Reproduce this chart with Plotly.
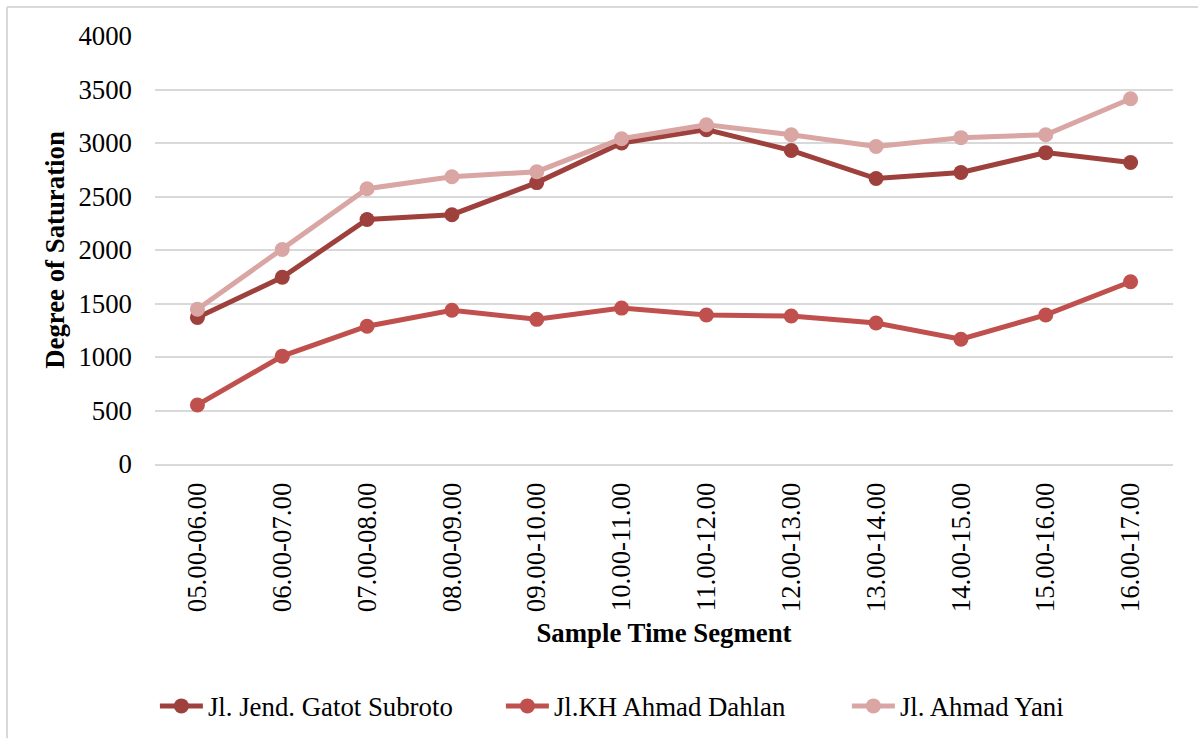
import plotly.graph_objects as go

categories = ["05.00-06.00", "06.00-07.00", "07.00-08.00", "08.00-09.00", "09.00-10.00",
              "10.00-11.00", "11.00-12.00", "12.00-13.00", "13.00-14.00", "14.00-15.00",
              "15.00-16.00", "16.00-17.00"]
gatot_subroto = [1370, 1745, 2285, 2330, 2630, 3000, 3125, 2930, 2668, 2725, 2910, 2818]
ahmad_dahlan = [552, 1008, 1288, 1437, 1352, 1457, 1392, 1383, 1318, 1166, 1393, 1703]
ahmad_yani = [1447, 2005, 2573, 2685, 2732, 3040, 3170, 3077, 2967, 3050, 3077, 3413]
y_ticks = [0, 500, 1000, 1500, 2000, 2500, 3000, 3500, 4000]

series = [
    ("Jl. Jend. Gatot Subroto", gatot_subroto, "#9E413D"),
    ("Jl.KH Ahmad Dahlan", ahmad_dahlan, "#C0504D"),
    ("Jl. Ahmad Yani", ahmad_yani, "#D9A6A4"),
]

font_family = "Liberation Serif, Times New Roman, serif"
FS = 26.8

fig = go.Figure()
for name, vals, color in series:
    fig.add_trace(go.Scatter(
        x=categories, y=vals, name=name, mode="lines+markers",
        line=dict(color=color, width=5),
        marker=dict(color=color, size=15),
    ))

W, H = 1198, 740
L, R, T, B = 155, 25, 36, 275
pw, ph = W - L - R, H - T - B

fig.update_layout(
    width=W, height=H,
    margin=dict(l=L, r=R, t=T, b=B),
    paper_bgcolor="white", plot_bgcolor="white",
    font=dict(family=font_family, size=FS, color="black"),
    showlegend=True,
    legend=dict(orientation="h", x=-0.0001, xanchor="left", y=(465 - 706) / ph, yanchor="middle",
                font=dict(size=FS), itemwidth=43, entrywidth=288, entrywidthmode="pixels",
                traceorder="normal"),
    xaxis=dict(
        type="category", tickangle=-90, showgrid=False, showline=True,
        linecolor="#D9D9D9", linewidth=2, ticks="", tickfont=dict(size=FS),
        ticklabelstandoff=6,
        title=dict(text="<b>Sample Time Segment</b>", font=dict(size=FS), standoff=12),
        range=[-0.5, 11.5],
    ),
    yaxis=dict(
        range=[0, 4000], tickvals=y_ticks, showgrid=True, gridcolor="#D9D9D9", gridwidth=2,
        zeroline=False, showline=False, ticks="", tickfont=dict(size=FS),
        ticklabelstandoff=22,
        title=dict(text="<b>Degree of Saturation</b>", font=dict(size=FS), standoff=6),
    ),
)

# outer border (top and left visible)
fig.add_shape(type="line", xref="paper", yref="paper",
              x0=(7 - L) / pw, x1=(W - L) / pw, y0=(465 - 7) / ph, y1=(465 - 7) / ph,
              line=dict(color="#D9D9D9", width=2))
fig.add_shape(type="line", xref="paper", yref="paper",
              x0=(7 - L) / pw, x1=(7 - L) / pw, y0=(465 - 7) / ph, y1=(465 - H) / ph,
              line=dict(color="#D9D9D9", width=2))

fig.write_html("out.html")
